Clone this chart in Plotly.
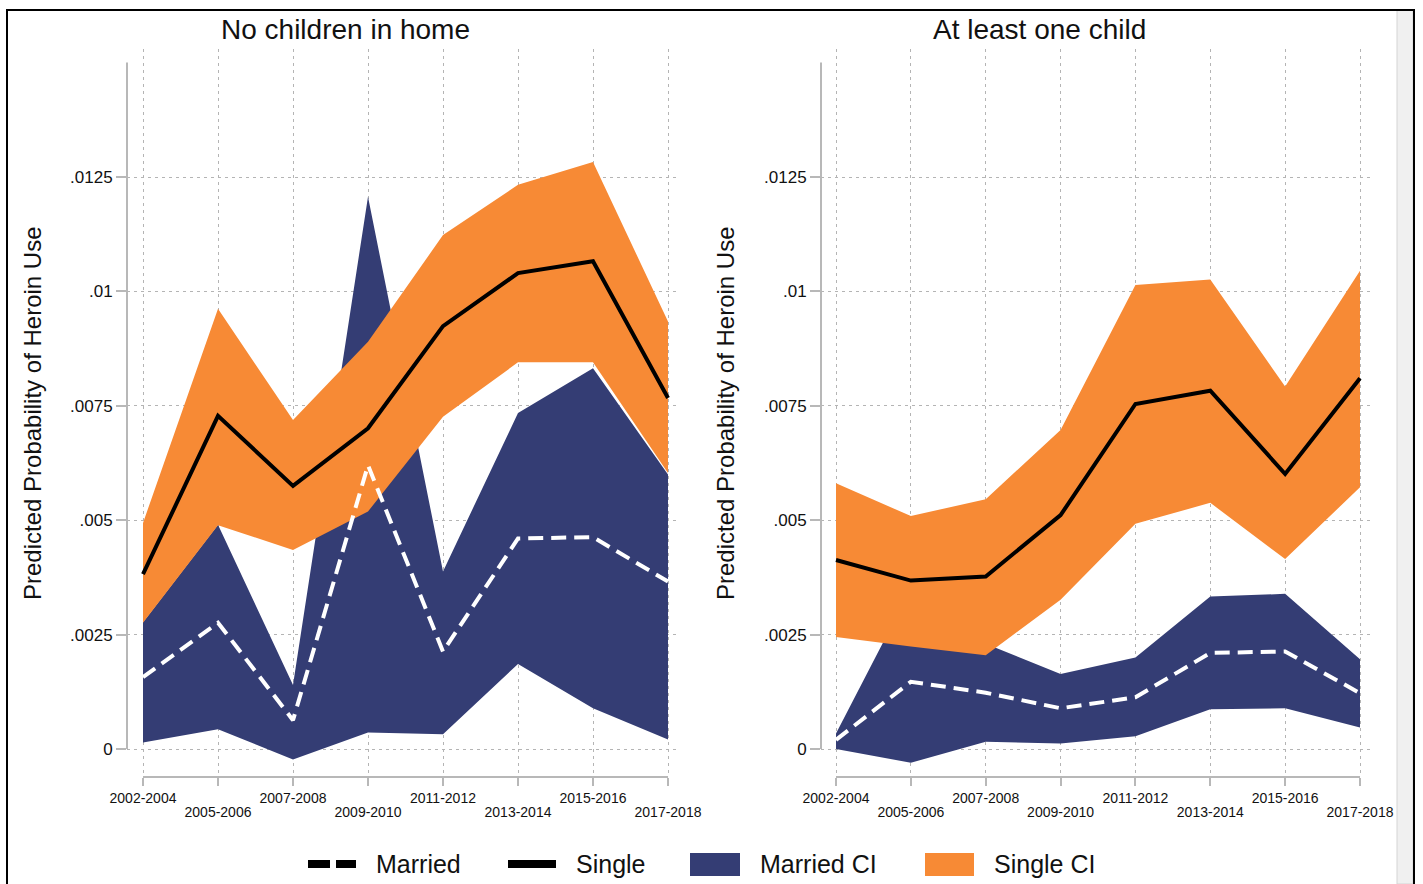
import plotly.graph_objects as go

W, H = 1423, 884

periods = ["2002-2004", "2005-2006", "2007-2008", "2009-2010",
           "2011-2012", "2013-2014", "2015-2016", "2017-2018"]

# Panel 1: No children in home
single_nc = [0.00382, 0.00728, 0.00575, 0.00701, 0.00924, 0.01040, 0.01066, 0.00767]
single_nc_lo = [0.00276, 0.00489, 0.00435, 0.00519, 0.00726, 0.00845, 0.00845, 0.00603]
single_nc_hi = [0.00494, 0.00962, 0.00719, 0.00890, 0.01123, 0.01233, 0.01283, 0.00934]
married_nc = [0.00157, 0.00276, 0.00063, 0.00620, 0.00213, 0.00460, 0.00463, 0.00366]
married_nc_lo = [0.00014, 0.00043, -0.00023, 0.00036, 0.00032, 0.00186, 0.00089, 0.00021]
married_nc_hi = [0.00277, 0.00490, 0.00140, 0.01207, 0.00388, 0.00734, 0.00832, 0.00600]

# Panel 2: At least one child
single_c = [0.00413, 0.00368, 0.00377, 0.00511, 0.00754, 0.00783, 0.00601, 0.00810]
single_c_lo = [0.00245, 0.00224, 0.00205, 0.00326, 0.00492, 0.00538, 0.00415, 0.00572]
single_c_hi = [0.00581, 0.00509, 0.00546, 0.00697, 0.01014, 0.01026, 0.00792, 0.01045]
married_c = [0.00020, 0.00147, 0.00123, 0.00089, 0.00113, 0.00210, 0.00213, 0.00122]
married_c_lo = [0.00000, -0.00030, 0.00016, 0.00012, 0.00028, 0.00087, 0.00089, 0.00047]
married_c_hi = [0.00034, 0.00350, 0.00230, 0.00164, 0.00200, 0.00333, 0.00339, 0.00196]

panel_titles = ["No children in home", "At least one child"]
y_title = "Predicted Probability of Heroin Use"
y_tickvals = [0, 0.0025, 0.005, 0.0075, 0.01, 0.0125]
y_ticktext = ["0", ".0025", ".005", ".0075", ".01", ".0125"]
legend_labels = ["Married", "Single", "Married CI", "Single CI"]

NAVY = "#343D74"
ORANGE = "#F78A35"
GRID = "#b4b4b4"
AXIS = "#b8b8b8"
FONT = "Liberation Sans, Arial, sans-serif"


def px(x):
    return x / W


def py(y):
    return 1 - y / H


fig = go.Figure()

panels = [
    (single_nc, single_nc_lo, single_nc_hi, married_nc, married_nc_lo, married_nc_hi, "x", "y", "x3"),
    (single_c, single_c_lo, single_c_hi, married_c, married_c_lo, married_c_hi, "x2", "y2", "x4"),
]

for (s, s_lo, s_hi, m, m_lo, m_hi, xa, ya, xo) in panels:
    fig.add_trace(go.Scatter(x=periods, y=m_lo, mode="lines", line=dict(width=0),
                             showlegend=False, hoverinfo="skip", xaxis=xa, yaxis=ya))
    fig.add_trace(go.Scatter(x=periods, y=m_hi, mode="lines", line=dict(width=0),
                             fill="tonexty", fillcolor=NAVY, name=legend_labels[2],
                             showlegend=False, xaxis=xa, yaxis=ya))
    fig.add_trace(go.Scatter(x=periods, y=s_lo, mode="lines", line=dict(width=0),
                             showlegend=False, hoverinfo="skip", xaxis=xa, yaxis=ya))
    fig.add_trace(go.Scatter(x=periods, y=s_hi, mode="lines", line=dict(width=0),
                             fill="tonexty", fillcolor=ORANGE, name=legend_labels[3],
                             showlegend=False, xaxis=xa, yaxis=ya))
    fig.add_trace(go.Scatter(x=periods, y=m, mode="lines",
                             line=dict(color="white", width=4, dash="15px,8px"),
                             name=legend_labels[0], showlegend=False, xaxis=xa, yaxis=ya))
    fig.add_trace(go.Scatter(x=periods, y=s, mode="lines",
                             line=dict(color="black", width=4),
                             name=legend_labels[1], showlegend=False, xaxis=xa, yaxis=ya))
    # empty helper trace so the overlay axis (staggered labels) is drawn
    fig.add_trace(go.Scatter(x=[None], y=[None], mode="lines", showlegend=False,
                             hoverinfo="skip", xaxis=xo, yaxis=ya))

n = len(periods)
odd_idx = list(range(1, n, 2))
xr1 = [-16 / 75, (n - 1) + 10 / 75]
xr2 = [-15 / 74.86, (n - 1) + 11 / 74.86]

tickfont = dict(family=FONT, size=14, color="#111")
common_x = dict(
    type="category", tickmode="array", tickvals=periods,
    ticktext=[p if i % 2 == 0 else "" for i, p in enumerate(periods)],
    showgrid=True, gridcolor=GRID, gridwidth=1, griddash="3px,4px",
    ticks="outside", ticklen=8, tickwidth=1.5, tickcolor=AXIS,
    tickfont=tickfont, showline=False, zeroline=False, tickangle=0,
    automargin=False,
)
# overlay axes carrying the staggered (lower row) labels
odd_x = dict(
    type="linear", tickmode="array", tickvals=odd_idx,
    ticktext=[periods[i] for i in odd_idx],
    showgrid=False, ticks="outside", ticklen=8, tickcolor="rgba(0,0,0,0)",
    ticklabelstandoff=14, tickfont=tickfont, showline=False, zeroline=False,
    tickangle=0, automargin=False,
)
common_y = dict(
    tickmode="array", tickvals=y_tickvals, ticktext=y_ticktext,
    range=[-28 / 45760, 700 / 45760],
    showgrid=True, gridcolor=GRID, gridwidth=1, griddash="3px,4px",
    ticks="outside", ticklen=10, tickwidth=1.5, tickcolor=AXIS,
    tickfont=dict(family=FONT, size=17, color="#111"),
    showline=False, zeroline=False, automargin=False,
)

ydom = [py(777), py(49)]
d1 = [px(127), px(678)]
d2 = [px(821), px(1371)]
fig.update_layout(
    width=W, height=H,
    margin=dict(l=0, r=0, t=0, b=0, pad=0, autoexpand=False),
    paper_bgcolor="white", plot_bgcolor="white",
    showlegend=False,
    xaxis=dict(common_x, domain=d1, range=xr1, anchor="y"),
    yaxis=dict(common_y, domain=ydom, anchor="x"),
    xaxis2=dict(common_x, domain=d2, range=xr2, anchor="y2"),
    yaxis2=dict(common_y, domain=ydom, anchor="x2"),
    xaxis3=dict(odd_x, domain=d1, range=xr1, anchor="y", overlaying="x"),
    xaxis4=dict(odd_x, domain=d2, range=xr2, anchor="y2", overlaying="x2"),
)

shapes = []
# axis lines spanning the scale range (Stata style)
for xa, ya in [("x", "y"), ("x2", "y2")]:
    shapes.append(dict(type="line", xref=xa + " domain", x0=0, x1=0, yref=ya, y0=0, y1=0.015,
                       line=dict(color=AXIS, width=2)))
    shapes.append(dict(type="line", xref=xa, x0=0, x1=n - 1, yref=ya + " domain", y0=0, y1=0,
                       line=dict(color=AXIS, width=2)))

# legend symbols
ly = py(864)
shapes.append(dict(type="line", xref="paper", yref="paper", x0=px(308), x1=px(356), y0=ly, y1=ly,
                   line=dict(color="black", width=8, dash="22px,6px")))
shapes.append(dict(type="line", xref="paper", yref="paper", x0=px(508), x1=px(556), y0=ly, y1=ly,
                   line=dict(color="black", width=8)))
shapes.append(dict(type="rect", xref="paper", yref="paper", x0=px(690), x1=px(740), y0=py(876), y1=py(853),
                   fillcolor=NAVY, line=dict(width=0)))
shapes.append(dict(type="rect", xref="paper", yref="paper", x0=px(925), x1=px(974), y0=py(876), y1=py(853),
                   fillcolor=ORANGE, line=dict(width=0)))

# window frame and side strip
shapes.append(dict(type="rect", xref="paper", yref="paper", x0=px(1397), x1=px(1413), y0=py(884), y1=py(10),
                   fillcolor="#f0f0f0", line=dict(color="#d4d4d4", width=1)))
shapes.append(dict(type="rect", xref="paper", yref="paper", x0=px(7), x1=px(1414), y0=py(900), y1=py(10),
                   fillcolor="rgba(0,0,0,0)", line=dict(color="black", width=2)))
fig.update_layout(shapes=shapes)

annotations = []
for title, cx in zip(panel_titles, [345.5, 1039]):
    annotations.append(dict(text=title, x=px(cx), y=py(30), xref="paper", yref="paper",
                            xanchor="center", yanchor="middle", showarrow=False,
                            font=dict(family=FONT, size=28, color="#111")))
for cx in [32, 725]:
    annotations.append(dict(text=y_title, x=px(cx), y=py(413), xref="paper", yref="paper",
                            xanchor="center", yanchor="middle", showarrow=False, textangle=-90,
                            font=dict(family=FONT, size=24, color="#111")))
for lab, lx in zip(legend_labels, [374, 574, 758, 992]):
    annotations.append(dict(text=lab, x=px(lx), y=ly, xref="paper", yref="paper",
                            xanchor="left", yanchor="middle", showarrow=False,
                            font=dict(family=FONT, size=25, color="#111")))
fig.update_layout(annotations=annotations)

fig.write_html("out.html")
